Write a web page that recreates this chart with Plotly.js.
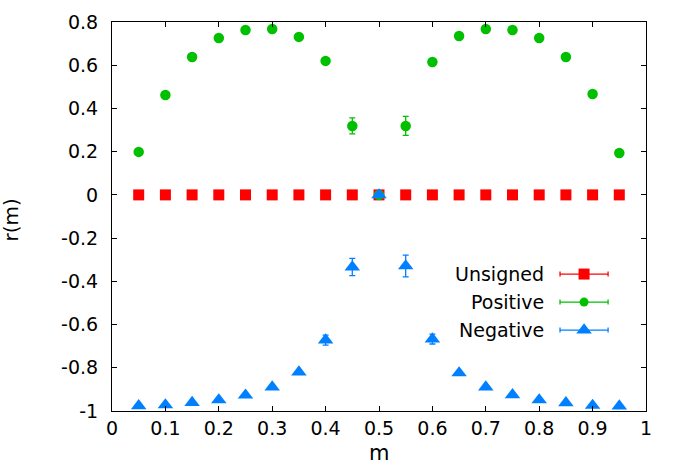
<!DOCTYPE html>
<html>
<head>
<meta charset="utf-8">
<script src="https://cdn.plot.ly/plotly-3.0.1.min.js"></script>
<style>html,body{margin:0;padding:0;background:#fff;}#chart{width:680px;height:472px;}</style>
</head>
<body>
<div id="chart"></div>
<script>
// ---- data ----
var m = [0.05,0.10,0.15,0.20,0.25,0.30,0.35,0.40,0.45,0.50,0.55,0.60,0.65,0.70,0.75,0.80,0.85,0.90,0.95];
var unsignedR   = [0,0,0,0,0,0,0,0,0,0,0,0,0,0,0,0,0,0,0];
var unsignedErr = [0.003,0.003,0.003,0.003,0.003,0.003,0.003,0.003,0.003,0.003,0.003,0.003,0.003,0.003,0.003,0.003,0.003,0.003,0.003];
var positiveR   = [0.199,0.462,0.638,0.726,0.763,0.768,0.731,0.620,0.319,0.0,0.319,0.615,0.735,0.768,0.763,0.726,0.638,0.467,0.194];
var positiveErr = [0.012,0.012,0.012,0.012,0.012,0.012,0.012,0.012,0.037,0.005,0.044,0.012,0.012,0.012,0.012,0.012,0.012,0.012,0.012];
var negativeR   = [-0.976,-0.972,-0.961,-0.949,-0.927,-0.889,-0.820,-0.672,-0.334,0.0,-0.329,-0.667,-0.824,-0.889,-0.925,-0.949,-0.962,-0.974,-0.977];
var negativeErr = [0.005,0.005,0.005,0.006,0.006,0.007,0.008,0.023,0.040,0.005,0.050,0.023,0.008,0.007,0.006,0.006,0.005,0.005,0.005];
var seriesNames = ["Unsigned","Positive","Negative"];
var xTickVals = [0,0.1,0.2,0.3,0.4,0.5,0.6,0.7,0.8,0.9,1];
var xTickText = ["0","0.1","0.2","0.3","0.4","0.5","0.6","0.7","0.8","0.9","1"];
var yTickVals = [0.8,0.6,0.4,0.2,0,-0.2,-0.4,-0.6,-0.8,-1];
var yTickText = ["0.8","0.6","0.4","0.2","0","-0.2","-0.4","-0.6","-0.8","-1"];

var red = "#ff0000", green = "#00c000", blue = "#0080ff";
var FONT = "DejaVu Sans";

function trace(y, err, name, color, symbol, size) {
  return {
    x: m, y: y, name: name, type: "scatter", mode: "markers",
    marker: {color: color, symbol: symbol, size: size, line: {width: 0}},
    error_y: {type: "data", array: err, visible: true, color: color, thickness: 1.3, width: 3},
    showlegend: false, cliponaxis: false
  };
}

var traces = [
  trace(unsignedR, unsignedErr, seriesNames[0], red, "square", 11),
  trace(positiveR, positiveErr, seriesNames[1], green, "circle", 10.5),
  trace(negativeR, negativeErr, seriesNames[2], blue, "triangle-up", 13.5)
];

// legend (gnuplot style: text left, sample right)
var legColors = [red, green, blue];
var legSymbols = ["square", "circle", "triangle-up"];
var legSizes = [11, 9, 13.5];
var legY = [0.352, 0.280, 0.208];
var lx0 = 0.839, lx1 = 0.929, lxm = 0.884, ltx = 0.813;
var shapes = [], annotations = [];
for (var i = 0; i < 3; i++) {
  shapes.push({type: "line", xref: "paper", yref: "paper", x0: lx0, x1: lx1, y0: legY[i], y1: legY[i], line: {color: legColors[i], width: 1.3}});
  [lx0, lx1].forEach(function (xx) {
    shapes.push({type: "line", xref: "paper", yref: "paper", x0: xx, x1: xx, y0: legY[i] - 0.0065, y1: legY[i] + 0.0065, line: {color: legColors[i], width: 1.3}});
  });
  annotations.push({xref: "paper", yref: "paper", x: ltx, y: legY[i], xanchor: "right", yanchor: "middle",
    text: seriesNames[i], showarrow: false, font: {family: FONT, size: 19, color: "#000"}});
  traces.push({x: [lxm], y: [legY[i]], xaxis: "x2", yaxis: "y2", type: "scatter", mode: "markers",
    marker: {color: legColors[i], symbol: legSymbols[i], size: legSizes[i]}, showlegend: false, hoverinfo: "skip", cliponaxis: false});
}
annotations.push({xref: "paper", yref: "paper", x: -0.189, y: 0.49, xanchor: "center", yanchor: "middle",
  text: "r(m)", textangle: -90, showarrow: false, font: {family: FONT, size: 20, color: "#000"}});
annotations.push({xref: "paper", yref: "paper", x: 0.5, y: -0.108, xanchor: "center", yanchor: "middle",
  text: "m", showarrow: false, font: {family: FONT, size: 21, color: "#000"}});

var axisCommon = {
  showgrid: false, zeroline: false, showline: true, linecolor: "#000", linewidth: 1,
  ticks: "inside", ticklen: 5, tickwidth: 1, tickcolor: "#000", mirror: "ticks",
  tickfont: {family: FONT, size: 19, color: "#000"}
};

var layout = {
  width: 680, height: 472,
  margin: {l: 112, r: 34, t: 22, b: 61},
  paper_bgcolor: "#fff", plot_bgcolor: "#fff",
  showlegend: false,
  xaxis: Object.assign({}, axisCommon, {range: [0, 1], tickmode: "array", tickvals: xTickVals, ticktext: xTickText, ticklabelstandoff: 0}),
  yaxis: Object.assign({}, axisCommon, {range: [-1, 0.8], tickmode: "array", tickvals: yTickVals, ticktext: yTickText, ticklabelstandoff: 9}),
  xaxis2: {overlaying: "x", range: [0, 1], visible: false, fixedrange: true},
  yaxis2: {overlaying: "y", range: [0, 1], visible: false, fixedrange: true},
  shapes: shapes,
  annotations: annotations
};

Plotly.newPlot("chart", traces, layout, {displayModeBar: false, staticPlot: true});
</script>
</body>
</html>
